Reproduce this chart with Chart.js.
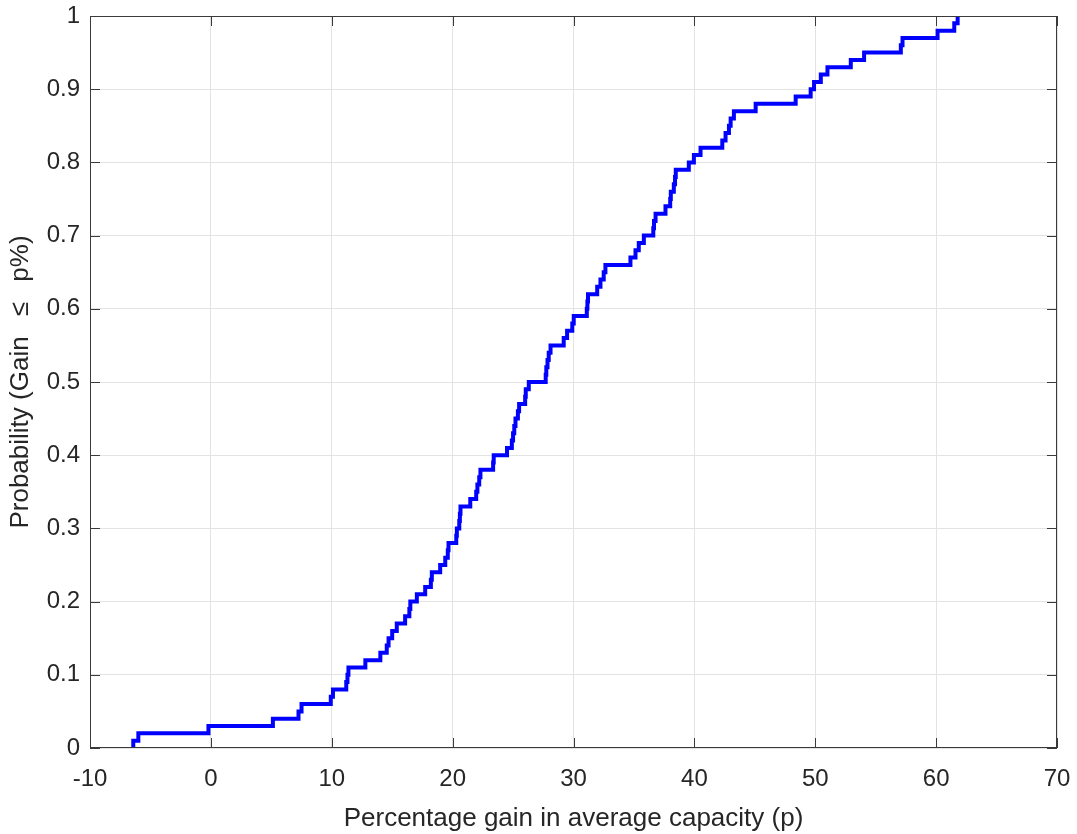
<!DOCTYPE html>
<html>
<head>
<meta charset="utf-8">
<script src="https://cdn.jsdelivr.net/npm/chart.js@4/dist/chart.umd.min.js"></script>
<style>
    html, body { margin: 0; padding: 0; background: #ffffff; }
    #wrap { width: 1077px; height: 834px; }
</style>
</head>
<body>
<div id="wrap"><canvas id="cdfChart" width="1077" height="834"></canvas></div>
<script>

// sorted gain samples (%), one per trial
const gainSamples = [
    -6.42, -6.0, -0.2, 5.13, 7.25, 7.5, 9.92, 10.1, 11.2, 11.3,
    11.38, 12.78, 14.02, 14.55, 14.7, 15.0, 15.38, 16.07, 16.42, 16.5,
    17.04, 17.73, 18.2, 18.28, 18.97, 19.39, 19.6, 19.66, 20.3, 20.35,
    20.55, 20.6, 20.65, 21.46, 21.95, 22.05, 22.2, 22.3, 23.35, 23.4,
    24.5, 24.9, 25.0, 25.1, 25.2, 25.4, 25.5, 26.0, 26.05, 26.3,
    27.7, 27.75, 27.85, 27.95, 28.1, 29.19, 29.47, 29.9, 30.02, 31.1,
    31.15, 31.2, 31.96, 32.23, 32.5, 32.64, 34.71, 35.13, 35.4, 35.82,
    36.6, 36.66, 36.79, 37.61, 38.0, 38.05, 38.3, 38.4, 38.46, 39.54,
    39.96, 40.51, 42.31, 42.58, 42.86, 43.0, 43.27, 45.07, 48.38, 49.62,
    49.9, 50.46, 51.01, 52.94, 54.04, 57.08, 57.22, 60.12, 61.5, 61.78
];

const xTickValues = [-10, 0, 10, 20, 30, 40, 50, 60, 70];
const xTickLabels = ['-10', '0', '10', '20', '30', '40', '50', '60', '70'];
const yTickValues = [0, 0.1, 0.2, 0.3, 0.4, 0.5, 0.6, 0.7, 0.8, 0.9, 1];
const yTickLabels = ['0', '0.1', '0.2', '0.3', '0.4', '0.5', '0.6', '0.7', '0.8', '0.9', '1'];

const xTitle = 'Percentage gain in average capacity (p)';
const yTitle = 'Probability (Gain \u2002\u2264\u2002 p%)';

const textColor = '#262626';
const axisColor = '#3a3a3a';
const gridColor = '#e3e3e3';
const fontFamily = '"Liberation Sans", Arial, Helvetica, sans-serif';
const tickLen = 10;

// empirical CDF: starts at 0 on the first sample, +1/n at every sample
const n = gainSamples.length;
const cdfPoints = [{ x: gainSamples[0], y: 0 }].concat(
    gainSamples.map((g, i) => ({ x: g, y: (i + 1) / n }))
);

// box round the plot with short ticks pointing inward on all four sides
const boxTicks = {
    id: 'boxTicks',
    afterDatasetsDraw(chart) {
        const { ctx, chartArea: a, scales: { x, y } } = chart;
        ctx.save();
        ctx.strokeStyle = axisColor;
        ctx.lineWidth = 1;
        ctx.beginPath();
        x.ticks.forEach(t => {
            const px = Math.round(x.getPixelForValue(t.value)) + 0.5;
            ctx.moveTo(px, a.bottom);
            ctx.lineTo(px, a.bottom - tickLen);
            ctx.moveTo(px, a.top);
            ctx.lineTo(px, a.top + tickLen);
        });
        y.ticks.forEach(t => {
            const py = Math.round(y.getPixelForValue(t.value)) + 0.5;
            ctx.moveTo(a.left, py);
            ctx.lineTo(a.left + tickLen, py);
            ctx.moveTo(a.right, py);
            ctx.lineTo(a.right - tickLen, py);
        });
        ctx.stroke();
        ctx.strokeRect(Math.round(a.left) + 0.5, Math.round(a.top) + 0.5,
            Math.round(a.width) - 1, Math.round(a.height) - 1);
        ctx.restore();
    }
};

new Chart(document.getElementById('cdfChart'), {
    type: 'line',
    data: {
        datasets: [
            {
                data: cdfPoints,
                stepped: 'before',
                borderColor: '#0000ff',
                borderWidth: 4,
                borderJoinStyle: 'miter',
                borderCapStyle: 'butt',
                pointRadius: 0,
                fill: false
            }
        ]
    },
    options: {
        responsive: false,
        animation: false,
        devicePixelRatio: 1,
        layout: {
            padding: { top: 16, right: 20, left: 0, bottom: 0 }
        },
        plugins: {
            legend: { display: false },
            tooltip: { enabled: false }
        },
        scales: {
            x: {
                type: 'linear',
                min: -10,
                max: 70,
                afterBuildTicks: s => { s.ticks = xTickValues.map(v => ({ value: v })); },
                afterFit: s => {
                    s.height = 86;
                    s.paddingLeft = 0;
                    s.paddingRight = 0;
                },
                grid: { color: gridColor, drawTicks: false },
                border: { display: false },
                ticks: {
                    padding: 17,
                    color: textColor,
                    font: { family: fontFamily, size: 24 },
                    maxRotation: 0,
                    callback: (v, i) => xTickLabels[i]
                },
                title: {
                    display: true,
                    text: xTitle,
                    color: textColor,
                    font: { family: fontFamily, size: 26 },
                    padding: { top: 6, bottom: 0 }
                }
            },
            y: {
                type: 'linear',
                min: 0,
                max: 1,
                afterBuildTicks: s => { s.ticks = yTickValues.map(v => ({ value: v })); },
                afterFit: s => {
                    s.width = 90;
                    s.paddingTop = 0;
                    s.paddingBottom = 0;
                },
                grid: { color: gridColor, drawTicks: false },
                border: { display: false },
                ticks: {
                    padding: 10,
                    color: textColor,
                    font: { family: fontFamily, size: 24 },
                    callback: (v, i) => yTickLabels[i]
                },
                title: {
                    display: true,
                    text: yTitle,
                    color: textColor,
                    font: { family: fontFamily, size: 26 },
                    padding: { top: 5, bottom: 0 }
                }
            }
        }
    },
    plugins: [boxTicks]
});
</script>
</body>
</html>
